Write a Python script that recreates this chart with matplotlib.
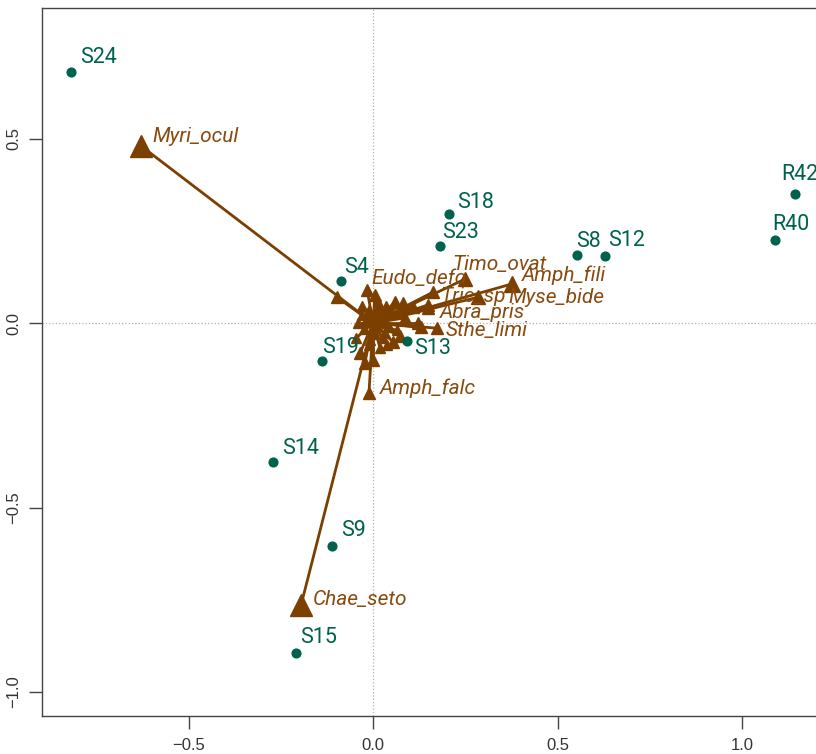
import numpy as np
import matplotlib
matplotlib.use("Agg")
import matplotlib.pyplot as plt

# site scores
site_names = ["S24", "S18", "S23", "S8", "S12", "R42", "R40",
              "S4", "S13", "S19", "S14", "S9", "S15"]
site_x = [-0.818, 0.206, 0.182, 0.553, 0.629, 1.144, 1.089,
          -0.087, 0.092, -0.138, -0.271, -0.111, -0.209]
site_y = [0.680, 0.295, 0.209, 0.184, 0.182, 0.350, 0.225,
          0.114, -0.049, -0.103, -0.377, -0.604, -0.894]

# labelled species scores
spec_names = ["Myri_ocul", "Chae_seto", "Amph_falc", "Timo_ovat", "Amph_fili",
              "Myse_bide", "Tric_sp", "Eudo_defo", "Abra_pris", "Sthe_limi"]
spec_x = [-0.629, -0.195, -0.011, 0.249, 0.377, 0.285, 0.163, -0.016, 0.149, 0.173]
spec_y = [0.480, -0.764, -0.190, 0.119, 0.106, 0.070, 0.084, 0.089, 0.041, -0.014]

# remaining (unlabelled) species scores
other_x = [-0.098, 0.014, 0.035, 0.060, 0.081, 0.108, 0.149, 0.122, 0.054, 0.038,
           0.019, 0.000, -0.022, -0.035, -0.041, -0.030, -0.011, 0.024, 0.087,
           0.073, -0.046, 0.005, 0.130,
           0.010, 0.028, -0.018, 0.042, -0.025, 0.006, 0.033, -0.008, 0.050,
           0.018, -0.030, 0.064, 0.002, 0.045, -0.012, 0.026]
other_y = [0.070, 0.057, 0.046, 0.057, 0.054, 0.043, 0.049, 0.000, -0.051, -0.060,
           -0.068, -0.100, -0.108, -0.081, 0.000, 0.022, 0.035, 0.030, 0.014,
           -0.035, -0.041, 0.076, -0.012,
           0.020, 0.012, 0.008, -0.010, -0.015, -0.030, -0.028, -0.045, 0.025,
           0.040, 0.045, -0.020, 0.010, 0.030, -0.060, -0.040]

green = "#00614C"
brown = "#7B3F00"
brown_txt = "#884A0E"
label_font = ["Roboto", "DejaVu Sans"]
tick_font = ["Liberation Sans Narrow", "Liberation Sans", "DejaVu Sans"]

# label offsets in points
site_off = {"S24": (6.5, 10.8), "S18": (5.8, 8.6), "S23": (1.4, 9.4), "S8": (-0.7, 10),
            "S12": (2.2, 10.8), "R42": (-10, 13.7), "R40": (-2.2, 10.8), "S4": (2.2, 10),
            "S13": (5, -5), "S19": (0, 10), "S14": (6.5, 10), "S9": (6.5, 10.8),
            "S15": (2.9, 10.8)}
spec_off = {"Myri_ocul": (8, 6.5), "Chae_seto": (8.6, 3.6), "Amph_falc": (8, 3.6),
            "Timo_ovat": (-9.4, 10.8), "Amph_fili": (7.2, 6.5), "Myse_bide": (21.5, 0),
            "Tric_sp": (5, -2.9), "Eudo_defo": (2.9, 8.6), "Abra_pris": (8.6, -3.6),
            "Sthe_limi": (6.5, -1.4)}

fig = plt.figure(figsize=(8.16, 7.54), dpi=100)
ax = fig.add_axes([41.7 / 816, 38.5 / 754, (880 - 41.7) / 816, 707.5 / 754])
ax.set_xlim(-0.898, 1.374)
ax.set_ylim(-1.0637, 0.8537)

ax.axhline(0, color="#b0b0b0", lw=0.9, ls=":", zorder=0)
ax.axvline(0, color="#b0b0b0", lw=0.9, ls=":", zorder=0)


def draw_arrow(x, y):
    length = np.hypot(x, y)
    ms = (10 + 14 * length) * 0.72
    ax.plot([0, x], [0, y], color=brown, lw=2.0, solid_capstyle="butt", zorder=2)
    ax.plot([x], [y], marker="^", ms=ms, color=brown, mec=brown, zorder=3)


for x, y in zip(other_x, other_y):
    draw_arrow(x, y)
for x, y in zip(spec_x, spec_y):
    draw_arrow(x, y)

for name, x, y in zip(spec_names, spec_x, spec_y):
    ax.annotate(name, (x, y), xytext=spec_off[name], textcoords="offset points",
                ha="left", va="center", color=brown_txt, fontsize=15,
                style="italic", family=label_font, zorder=4)

ax.plot(site_x, site_y, "o", ms=6.3, color=green, zorder=4)
for name, x, y in zip(site_names, site_x, site_y):
    ax.annotate(name, (x, y), xytext=site_off[name], textcoords="offset points",
                ha="left", va="center", color=green, fontsize=15.5,
                family=label_font, zorder=4)

for side in ["left", "bottom", "top", "right"]:
    ax.spines[side].set_color("#444444")
    ax.spines[side].set_linewidth(1.0)

ax.set_xticks([-0.5, 0.0, 0.5, 1.0])
ax.set_yticks([-1.0, -0.5, 0.0, 0.5])
ax.set_xticklabels(["\u22120.5", "0.0", "0.5", "1.0"])
ax.set_yticklabels(["\u22121.0", "\u22120.5", "0.0", "0.5"], rotation=90, va="center")
ax.tick_params(axis="both", direction="out", length=9.5, width=1.0, color="#444444",
               labelcolor="#333333", labelsize=12)
ax.tick_params(axis="x", pad=7)
ax.tick_params(axis="y", pad=5)
for lab in ax.get_xticklabels() + ax.get_yticklabels():
    lab.set_family(tick_font)

fig.savefig("out.png", dpi=100)
